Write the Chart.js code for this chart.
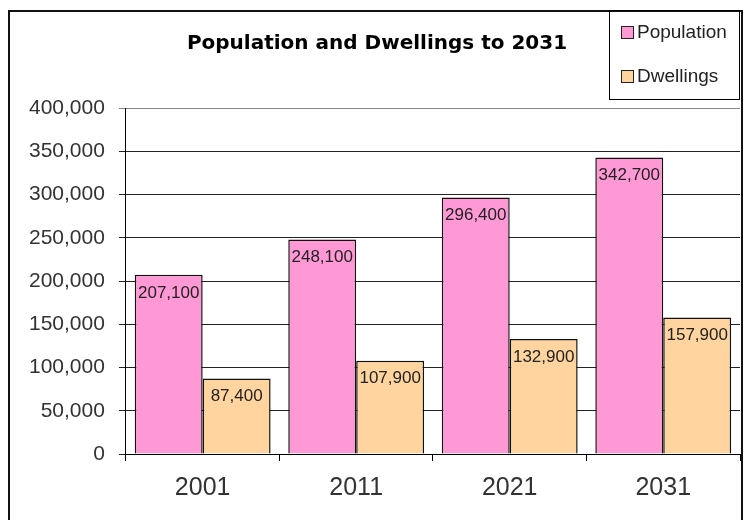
<!DOCTYPE html>
<html>
<head>
<meta charset="utf-8">
<script src="https://cdn.jsdelivr.net/npm/chart.js@4/dist/chart.umd.min.js"></script>
<style>
	html, body { margin: 0; padding: 0; background: #fff; }
	#wrap { width: 744px; height: 520px; }
</style>
</head>
<body>
<div id="wrap"><canvas id="popChart" width="744" height="520"></canvas></div>
<script>
const years = ['2001', '2011', '2021', '2031'];
const population = [207100, 248100, 296400, 342700];
const dwellings = [87400, 107900, 132900, 157900];
const seriesNames = ['Population', 'Dwellings'];
const chartTitle = 'Population and Dwellings to 2031';
const yMax = 400000;
const yStep = 50000;

const pink = '#ff99d6';
const tan = '#ffd49e';

function fmt(v) {
	return Number(v).toLocaleString('en-US');
}

// frame, title, legend box and the value labels inside each bar
const decorations = {
	id: 'decorations',
	afterDatasetsDraw: function(chart) {
		const ctx = chart.ctx;
		ctx.save();
		ctx.font = '17px "Liberation Sans", Arial, sans-serif';
		ctx.fillStyle = '#222';
		ctx.textAlign = 'center';
		ctx.textBaseline = 'middle';
		chart.data.datasets.forEach((ds, i) => {
			chart.getDatasetMeta(i).data.forEach((bar, j) => {
				ctx.fillText(fmt(ds.data[j]), bar.x, bar.y + 18);
			});
		});
		ctx.restore();
	},
	afterDraw: function(chart) {
		const ctx = chart.ctx;
		ctx.save();

		// outer border
		ctx.strokeStyle = '#111';
		ctx.lineWidth = 2;
		ctx.beginPath();
		ctx.moveTo(9, 530);
		ctx.lineTo(9, 11);
		ctx.lineTo(742, 11);
		ctx.lineTo(742, 530);
		ctx.stroke();

		// title
		ctx.font = 'bold 20px "DejaVu Sans", sans-serif';
		ctx.fillStyle = '#000';
		ctx.textAlign = 'center';
		ctx.textBaseline = 'middle';
		ctx.fillText(chartTitle, 377, 44);

		// legend
		ctx.lineWidth = 1;
		ctx.strokeStyle = '#000';
		ctx.strokeRect(609.5, 10.5, 130, 89);
		ctx.font = '19px "Liberation Sans", Arial, sans-serif';
		ctx.textAlign = 'left';
		chart.data.datasets.forEach((ds, i) => {
			const cy = 33 + i * 44;
			ctx.fillStyle = ds.backgroundColor;
			ctx.fillRect(622, cy - 6, 12, 12);
			ctx.strokeStyle = '#222';
			ctx.strokeRect(621.5, cy - 6.5, 12, 12);
			ctx.fillStyle = '#222';
			ctx.fillText(ds.label, 637, cy);
		});

		ctx.restore();
	}
};

new Chart(document.getElementById('popChart'), {
	type: 'bar',
	data: {
		labels: years,
		datasets: [
			{
				label: seriesNames[0],
				data: population,
				backgroundColor: pink,
				borderColor: '#111',
				borderWidth: 1.5
			},
			{
				label: seriesNames[1],
				data: dwellings,
				backgroundColor: tan,
				borderColor: '#111',
				borderWidth: 1.5
			}
		]
	},
	options: {
		responsive: false,
		animation: false,
		layout: {
			padding: { left: 15, right: 4, top: 108, bottom: 5 }
		},
		datasets: {
			bar: {
				categoryPercentage: 0.885,
				barPercentage: 1.0
			}
		},
		scales: {
			x: {
				grid: {
					offset: true,
					drawOnChartArea: false,
					tickLength: 7,
					color: '#000'
				},
				border: { color: '#000', width: 1 },
				ticks: {
					color: '#333',
					padding: 12,
					font: { family: '"Liberation Sans", Arial, sans-serif', size: 25 }
				}
			},
			y: {
				min: 0,
				max: yMax,
				ticks: {
					stepSize: yStep,
					color: '#333',
					padding: 14,
					font: { family: '"Liberation Sans", Arial, sans-serif', size: 21 },
					callback: function(value) {
						return fmt(value);
					}
				},
				grid: {
					tickLength: 7,
					color: function(context) {
						return context.tick && context.tick.value === yMax ? '#888' : '#222';
					}
				},
				border: { color: '#000', width: 1 }
			}
		},
		plugins: {
			legend: { display: false },
			title: { display: false },
			tooltip: { enabled: false }
		}
	},
	plugins: [decorations]
});
</script>
</body>
</html>
